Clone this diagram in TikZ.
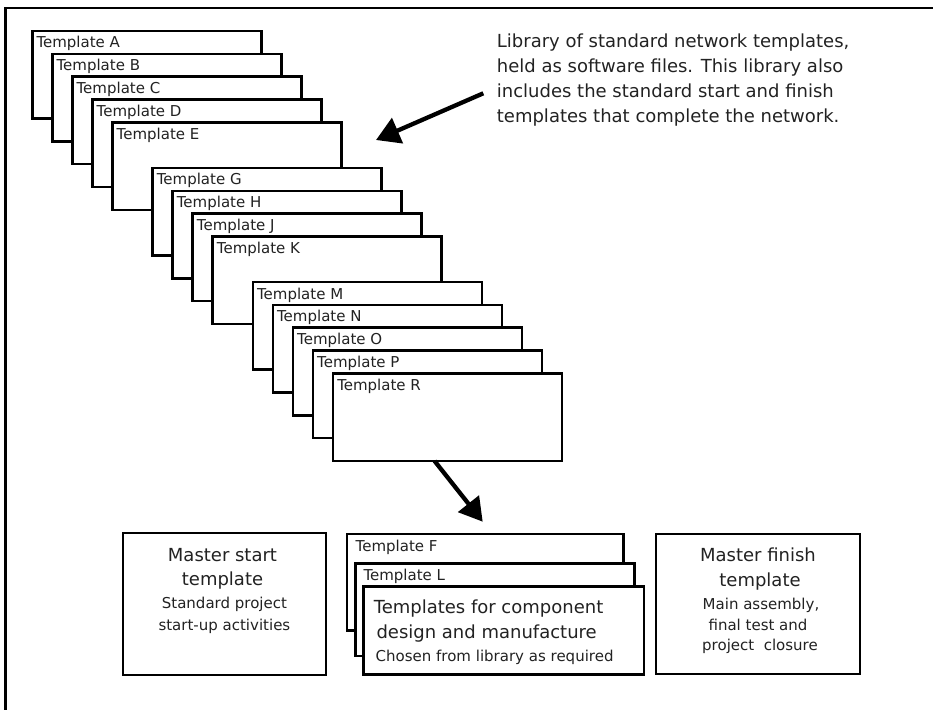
\documentclass[tikz,border=0pt]{standalone}
\usepackage{fontspec}
\setmainfont{DejaVu Sans}
\usetikzlibrary{arrows.meta,calc}
\definecolor{txt}{HTML}{222222}
\begin{document}
\begin{tikzpicture}[x=1pt,y=-1pt,
  tbox/.style={draw=black,line width=2.6pt,fill=white,rectangle,minimum width=229pt,minimum height=87.5pt,inner sep=0pt,outer sep=0pt,anchor=north west},
  mbox/.style={draw=black,line width=2.3pt,fill=white,rectangle,inner sep=0pt,outer sep=0pt,anchor=north west},
  tlab/.style={anchor=base west,inner sep=0pt,text=txt,font=\fontsize{15}{18}\selectfont},
  bigt/.style={anchor=base,inner sep=0pt,text=txt,font=\fontsize{18}{22}\selectfont},
  smallt/.style={anchor=base,inner sep=0pt,text=txt,font=\fontsize{15}{18}\selectfont},
  bigarrow/.style={line width=4.3pt,-{Triangle[length=23.5pt,width=27pt]}}]
\useasboundingbox (0,0) rectangle (933,709);
% outer frame (cut off at right and bottom)
\draw[line width=2.8pt] (5.4,8) rectangle (950,730);
% library stack
\foreach \n/\i in {A/0,B/1,C/2,D/3,E/4,G/6,H/7,J/8,K/9,M/11,N/12,O/13,P/14,R/15} {
  \node[tbox] (t\n) at ({32.3+20.05*\i},{31+22.83*\i}) {};
  \node[tlab] (l\n) at ($(t\n.north west)+(4,17)$) {Template \n};
}
% annotation
\node[anchor=base west,inner sep=0pt,text=txt,font=\fontsize{18}{22}\selectfont] (n1) at (496.7,47.3) {Library of standard network templates,};
\node[anchor=base west,inner sep=0pt,text=txt,font=\fontsize{18}{22}\selectfont] (n2) at (496.7,72.3) {held as software files. This library also};
\node[anchor=base west,inner sep=0pt,text=txt,font=\fontsize{18}{22}\selectfont] (n3) at (496.7,97.7) {includes the standard start and finish};
\node[anchor=base west,inner sep=0pt,text=txt,font=\fontsize{18}{22}\selectfont] (n4) at (496.7,122.3) {templates that complete the network.};
\coordinate (a1s) at (483.3,93.3);
\coordinate (a1e) at (376,140);
\draw[bigarrow] (a1s) -- (a1e);
% arrow to chosen templates
\coordinate (a2e) at (482.7,521.7);
\draw[line width=4.3pt,-{Triangle[length=23pt,width=26pt]}] ($(tR.south west)+(101.5,0)$) -- (a2e);
% master start
\node[mbox,minimum width=203.3pt,minimum height=141.7pt] (ms) at (122.7,533.3) {};
\node[bigt] (ms1) at (222.5,561.7) {Master start};
\node[bigt] (ms2) at (222.5,585) {template};
\node[smallt] (ms3) at (224.4,608.3) {Standard project};
\node[smallt] (ms4) at (224.4,630) {start-up activities};
% chosen component templates
\node[tbox,minimum width=276.4pt,minimum height=96.7pt] (tF) at (346.8,534) {};
\node[tlab] (lF) at ($(tF.north west)+(8.7,17.7)$) {Template F};
\node[tbox,minimum width=279pt,minimum height=92.7pt] (tL) at (355.6,563.3) {};
\node[tlab] (lL) at ($(tL.north west)+(7.7,17.4)$) {Template L};
\node[tbox,minimum width=280.7pt,minimum height=87.6pt] (tC) at (363.3,586.7) {};
\node[anchor=base west,inner sep=0pt,text=txt,font=\fontsize{18}{22}\selectfont] (c1) at (373.6,613.3) {Templates for component};
\node[anchor=base west,inner sep=0pt,text=txt,font=\fontsize{18}{22}\selectfont] (c2) at (376.3,638.5) {design and manufacture};
\node[anchor=base west,inner sep=0pt,text=txt,font=\fontsize{15}{18}\selectfont] (c3) at (375.5,661.7) {Chosen from library as required};
% master finish
\node[mbox,minimum width=204pt,minimum height=140pt] (mf) at (656,534) {};
\node[bigt] (mf1) at (758,561) {Master finish};
\node[bigt] (mf2) at (760,586.7) {template};
\node[smallt] (mf3) at (761,609.3) {Main assembly,};
\node[smallt] (mf4) at (758,630) {final test and};
\node[smallt] (mf5) at (760,650) {project\ \ closure};
\end{tikzpicture}
\end{document}
